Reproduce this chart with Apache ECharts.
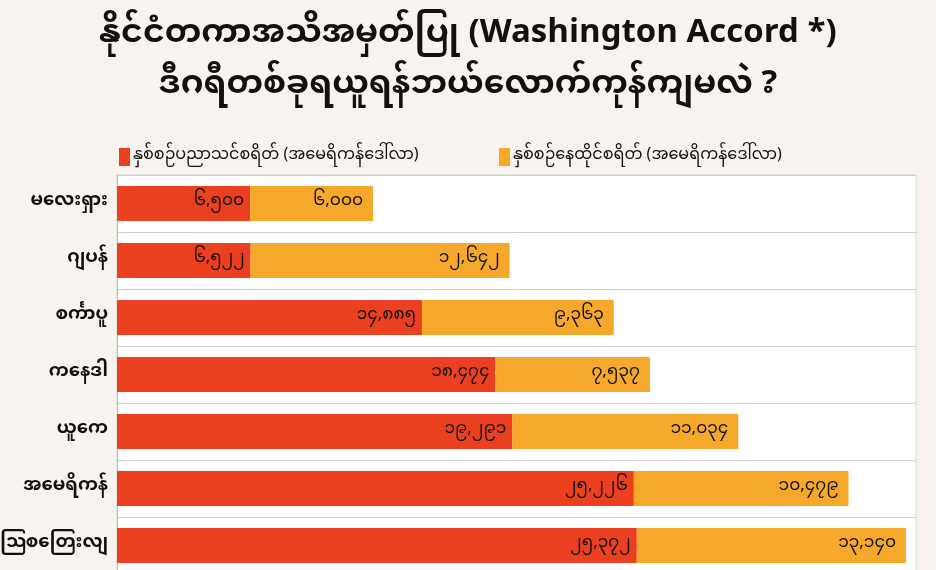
<!DOCTYPE html>
<html>
<head>
<meta charset="utf-8">
<script src="https://cdn.jsdelivr.net/npm/echarts@6/dist/echarts.min.js"></script>
<style>
  html, body { margin: 0; padding: 0; background: #f8f3ee; }
  #main { width: 936px; height: 570px; }
</style>
</head>
<body>
<div id="main"></div>
<script>
// data
const countries = ['မလေးရှား', 'ဂျပန်', 'စင်္ကာပူ', 'ကနေဒါ', 'ယူကေ', 'အမေရိကန်', 'ဩစတြေးလျ'];
const tuition = [6500, 6522, 14885, 18474, 19291, 25226, 25372];
const living = [6000, 12642, 9363, 7537, 11034, 10479, 13140];
const seriesNames = ['နှစ်စဉ်ပညာသင်စရိတ် (အမေရိကန်ဒေါ်လာ)', 'နှစ်စဉ်နေထိုင်စရိတ် (အမေရိကန်ဒေါ်လာ)'];

const FONT = '"Noto Sans Myanmar", "Noto Sans", "DejaVu Sans", sans-serif';

// 0-9 -> ၀-၉
function mmNum(v) {
    return v.toLocaleString('en-US').replace(/\d/g, d => String.fromCharCode(0x1040 + Number(d)));
}

let myChart = echarts.init(document.getElementById('main'));

let option = {
    backgroundColor: '#f8f3ee',
    textStyle: { fontFamily: FONT },
    title: {
        text: 'နိုင်ငံတကာအသိအမှတ်ပြု (Washington Accord *)\nဒီဂရီတစ်ခုရယူရန်ဘယ်လောက်ကုန်ကျမလဲ ?',
        left: 'center',
        top: 8,
        textStyle: {
            fontSize: 33,
            fontWeight: 'bold',
            color: '#111',
            lineHeight: 51,
            fontFamily: FONT
        }
    },
    legend: [{
        left: 114,
        top: 143,
        icon: 'rect',
        itemWidth: 11,
        itemHeight: 18,
        itemGap: 6,
        textStyle: { fontSize: 16, color: '#111', fontFamily: FONT, padding: [0, 0, 0, -2] },
        data: [seriesNames[0]]
    }, {
        left: 494,
        top: 143,
        icon: 'rect',
        itemWidth: 11,
        itemHeight: 18,
        textStyle: { fontSize: 16, color: '#111', fontFamily: FONT, padding: [0, 0, 0, -2] },
        data: [seriesNames[1]]
    }],
    grid: {
        left: 117,
        right: 20,
        top: 175,
        height: 399,
        outerBoundsMode: 'none',
        containLabel: false,
        show: true,
        backgroundColor: '#ffffff',
        borderColor: '#d6dccd',
        borderWidth: 1
    },
    xAxis: {
        type: 'value',
        min: 0,
        max: 39000,
        show: false
    },
    yAxis: {
        type: 'category',
        inverse: true,
        data: countries,
        axisTick: { show: false },
        axisLine: { show: true, lineStyle: { color: '#bbb' } },
        splitLine: { show: true, lineStyle: { color: '#cfcfcf', width: 1 } },
        axisLabel: {
            fontSize: 18,
            fontWeight: 'bold',
            color: '#111',
            margin: 9,
            fontFamily: FONT
        }
    },
    series: [{
        name: seriesNames[0],
        type: 'bar',
        stack: 'cost',
        data: tuition,
        barWidth: 35,
        itemStyle: { color: '#ea4020' },
        label: {
            show: true,
            position: 'insideRight',
            color: '#111',
            fontSize: 17,
            distance: 6,
            formatter: p => mmNum(p.value)
        }
    }, {
        name: seriesNames[1],
        type: 'bar',
        stack: 'cost',
        data: living,
        barWidth: 35,
        itemStyle: { color: '#f6a82a' },
        label: {
            show: true,
            position: 'insideRight',
            color: '#111',
            fontSize: 17,
            distance: 10,
            formatter: p => mmNum(p.value)
        }
    }]
};

myChart.setOption(option);
</script>
</body>
</html>
